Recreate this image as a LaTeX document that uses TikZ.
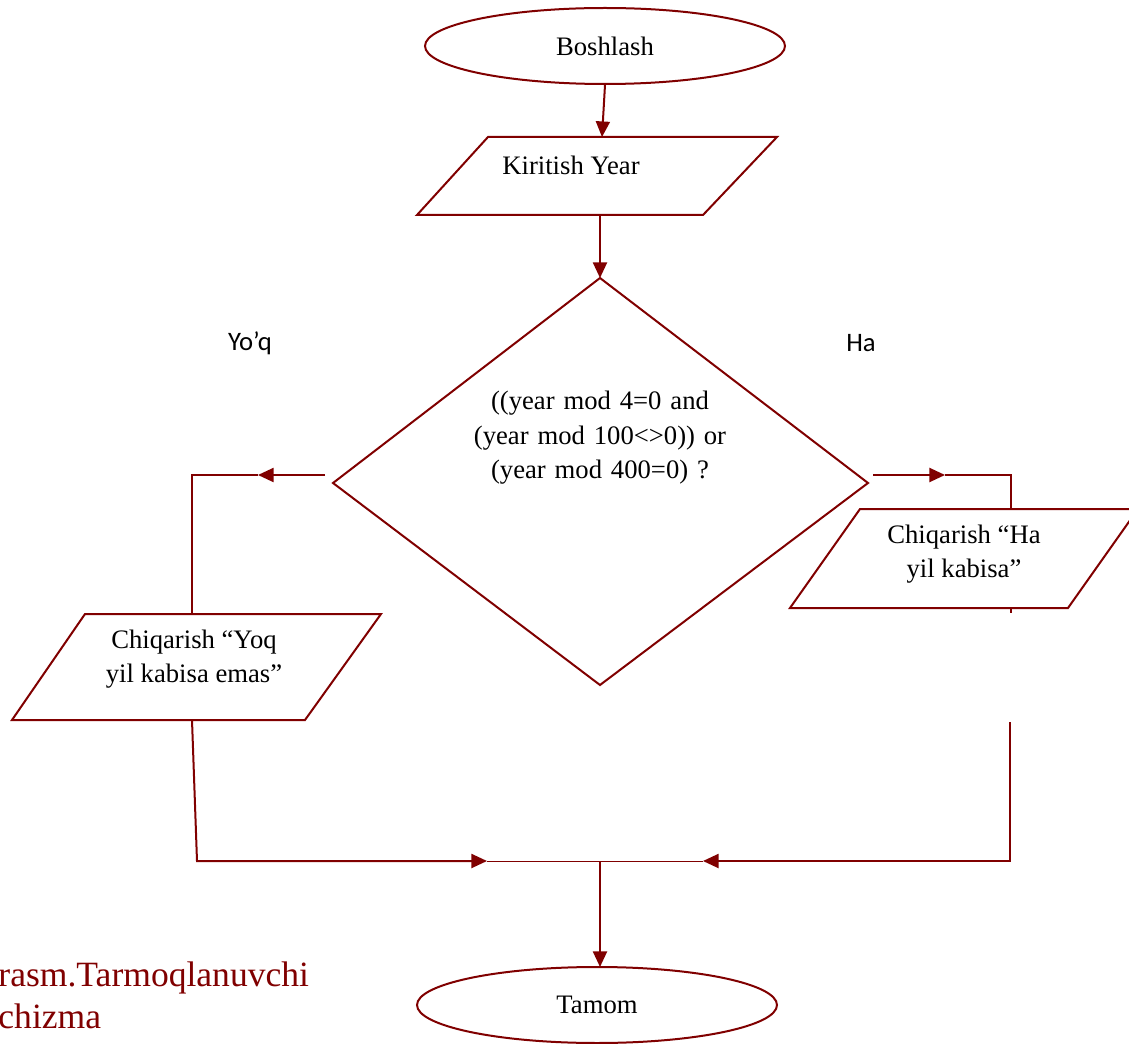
\documentclass[tikz,border=0pt]{standalone}
\usepackage{fontspec}
\setmainfont{Liberation Serif}
\newfontfamily\calibfont{Carlito}
\usetikzlibrary{arrows.meta,shapes.geometric}
\definecolor{lc}{RGB}{128,0,0}
\begin{document}
\begin{tikzpicture}[x=0.45pt,y=-0.45pt,
  line/.style={draw=lc,line width=0.9pt,line join=miter},
  thinline/.style={draw=lc,line width=0.45pt},
  arr/.style={line,-{Triangle[length=7pt,width=6.3pt]}},
  txt/.style={font=\fontsize{12}{15.5}\selectfont,align=center,inner sep=0pt},
  lab/.style={font=\calibfont\fontsize{12}{14}\selectfont,inner sep=0pt},
  captxt/.style={font=\fontsize{16}{19}\selectfont,text=lc,inner sep=0pt,anchor=base west},
  term/.style={ellipse,line,minimum width=162pt,minimum height=34.2pt,inner sep=0pt,font=\fontsize{12}{14}\selectfont}]
\useasboundingbox (0,0) rectangle (1129,1044);
\clip (0,0) rectangle (1129,1044);

% terminals
\node[term] (start) at (605,46) {Boshlash};
\node[term] (stop) at (597,1005) {Tamom};

% input parallelogram
\draw[line] (488,137) -- (777,137) -- (703,215) -- (417,215) -- cycle;
\node[txt] (input) at (571,165) {Kiritish Year};
\coordinate (inT) at (602,137);
\coordinate (inB) at (600,215);

% decision diamond
\draw[line] (600,278) -- (868,483) -- (600,685) -- (333,483) -- cycle;
\node[txt,text width=120pt] (dec) at (600,438) {((year mod 4=0 and\\(year mod 100<>0)) or\\(year mod 400=0) ?};
\coordinate (dT) at (600,278);

% left output parallelogram
\draw[line] (85,614) -- (381,614) -- (305,720) -- (12,720) -- cycle;
\node[txt] (outNo) at (194,659) {Chiqarish “Yoq\\yil kabisa emas”};
\coordinate (lpT) at (192,614);
\coordinate (lpB) at (192,720);

% right output parallelogram
\draw[line] (860,509) -- (1138,509) -- (1068,608) -- (790,608) -- cycle;
\node[txt] (outYes) at (964,554) {Chiqarish “Ha\\yil kabisa”};
\coordinate (rpT) at (1011,509);
\coordinate (rpB) at (1011,608);

% branch labels
\node[lab] (no) at (250,343) {Yo’q};
\node[lab] (yes) at (861,343) {Ha};

% caption
\node[captxt] (cap1) at (-2,986) {rasm.Tarmoqlanuvchi};
\node[captxt] (cap2) at (-2,1028) {chizma};

% connector coordinates
\coordinate (dL) at (325,475);
\coordinate (lA) at (258,475);
\coordinate (lC) at (192,475);
\coordinate (dR) at (873,475);
\coordinate (rA) at (945,475);
\coordinate (rC) at (1011,475);
\coordinate (rStub) at (1011,613);
\coordinate (lB1) at (197,861);
\coordinate (mL) at (487,861);
\coordinate (mM) at (600,861);
\coordinate (mR) at (703,861);
\coordinate (rV) at (1010,722);
\coordinate (rB1) at (1010,861);
\coordinate (stT) at (600,967);

% connectors
\draw[arr] (start.south) -- (inT);
\draw[arr] (inB) -- (dT);
\draw[arr] (dL) -- (lA);
\draw[line] (lA) -- (lC) -- (lpT);
\draw[arr] (dR) -- (rA);
\draw[line] (rA) -- (rC) -- (rpT);
\draw[line] (rpB) -- (rStub);
\draw[arr] (lpB) -- (lB1) -- (mL);
\draw[thinline] (mL) -- (mR);
\draw[arr] (rV) -- (rB1) -- (mR);
\draw[arr] (mM) -- (stT);
\end{tikzpicture}
\end{document}
